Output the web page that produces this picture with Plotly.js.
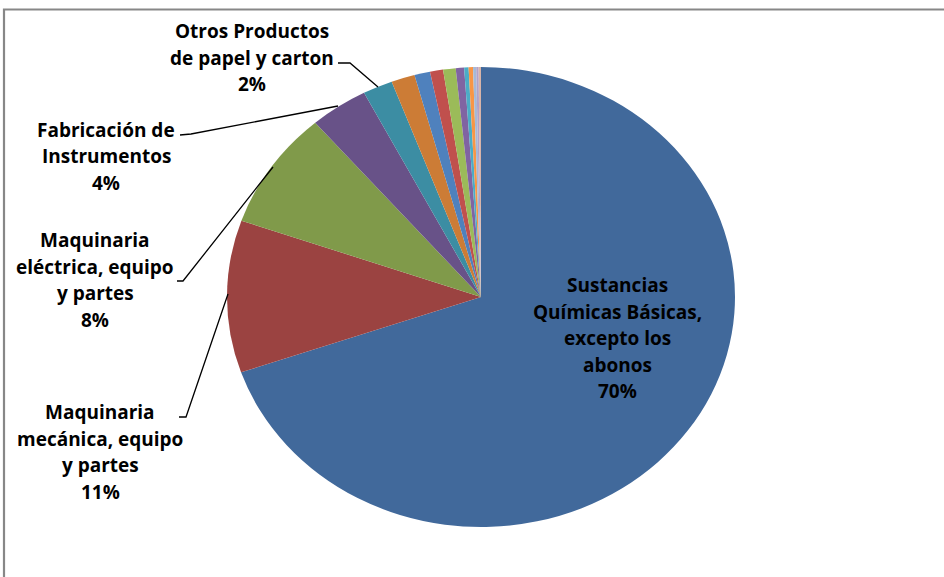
<!DOCTYPE html>
<html>
<head>
<meta charset="utf-8">
<script src="https://cdn.plot.ly/plotly-3.0.1.min.js"></script>
<style>
html,body{margin:0;padding:0;background:#fff;}
#chart{width:944px;height:577px;}
</style>
</head>
<body>
<div id="chart"></div>
<script>
// ---- data ----
const categories = [
  "Sustancias Químicas Básicas, excepto los abonos",
  "Maquinaria mecánica, equipo y partes",
  "Maquinaria eléctrica, equipo y partes",
  "Fabricación de Instrumentos",
  "Otros Productos de papel y carton",
  "Otra rama 1", "Otra rama 2", "Otra rama 3", "Otra rama 4", "Otra rama 5",
  "Otra rama 6", "Otra rama 7", "Otra rama 8", "Otra rama 9", "Otra rama 10"
];
const values = [69.7, 10.7, 8.3, 3.7, 1.9, 1.5, 1.0, 0.83, 0.8, 0.53, 0.28, 0.28, 0.2, 0.15, 0.15];
const colors = [
  "#41699B", "#9B4341", "#809A4A", "#685288", "#3C8DA3", "#CC7C36",
  "#4F81BD", "#C0504D", "#9BBB59", "#8064A2", "#4BACC6", "#F79646",
  "#A5B9D6", "#B3A2C7", "#D8B4A8"
];
// wrapped label lines for the labelled slices (index = slice index)
const labelLines = [
  ["Sustancias", "Químicas Básicas,", "excepto los", "abonos"],
  ["Maquinaria", "mecánica, equipo", "y partes"],
  ["Maquinaria", "eléctrica, equipo", "y partes"],
  ["Fabricación de", "Instrumentos"],
  ["Otros Productos", "de papel y carton"]
];

// ---- layout helpers (pixels of the 944x577 picture) ----
const W = 944, H = 577;
const labelPos = [[617, 285], [100, 412], [95, 240], [106, 130], [252, 31]];
const lineStep = 26.5;
const leaders = [
  null,
  [[179, 417], [186, 417], [228, 294]],
  [[177, 281], [183, 281], [273, 167]],
  [[180, 135], [191, 134], [338, 106]],
  [[338, 63], [350, 63], [378, 87]]
];
const px = (x, y) => [x / W, 1 - y / H];

const total = values.reduce((a, b) => a + b, 0);
const annotations = [];
labelLines.forEach((lines, i) => {
  const all = lines.concat([Math.round(values[i] / total * 100) + "%"]);
  all.forEach((t, k) => {
    const p = px(labelPos[i][0], labelPos[i][1] + k * lineStep);
    annotations.push({
      xref: "paper", yref: "paper", x: p[0], y: p[1],
      xanchor: "center", yanchor: "middle", showarrow: false,
      text: t,
      font: {family: "'Open Sans', sans-serif", size: 19, color: "#000", weight: 700}
    });
  });
});

const shapes = [{
  type: "rect", xref: "paper", yref: "paper",
  x0: 4 / W, x1: 1.05, y0: -0.05, y1: 1 - 9.5 / H,
  line: {color: "#878787", width: 2.2}, fillcolor: "rgba(0,0,0,0)"
}];
leaders.forEach(l => {
  if (!l) return;
  const path = l.map((pt, k) => {
    const p = px(pt[0], pt[1]);
    return (k ? "L" : "M") + p[0] + "," + p[1];
  }).join(" ");
  shapes.push({type: "path", xref: "paper", yref: "paper", path: path,
    line: {color: "#000", width: 1.3}});
});

const cxPx = 481, cyPx = 297, rY = 230, rX = 254;
const dom = {
  x: [(cxPx - rY) / W, (cxPx + rY) / W],
  y: [(H - cyPx - rY) / H, (H - cyPx + rY) / H]
};

const data = [{
  type: "pie",
  labels: categories,
  values: values,
  sort: false,
  direction: "clockwise",
  rotation: 0,
  textinfo: "none",
  hoverinfo: "label+percent",
  marker: {colors: colors, line: {width: 0}},
  domain: dom,
  showlegend: false
}];

const layout = {
  width: W, height: H,
  margin: {l: 0, r: 0, t: 0, b: 0},
  paper_bgcolor: "#fff",
  showlegend: false,
  annotations: annotations,
  shapes: shapes
};

Plotly.newPlot("chart", data, layout, {staticPlot: true, displayModeBar: false}).then(gd => {
  const sx = rX / rY;
  const cx = W * (dom.x[0] + dom.x[1]) / 2;
  gd.querySelectorAll(".pielayer").forEach(g => {
    g.setAttribute("transform", "translate(" + (cx * (1 - sx)) + ",0) scale(" + sx + ",1)");
  });
});
</script>
</body>
</html>
